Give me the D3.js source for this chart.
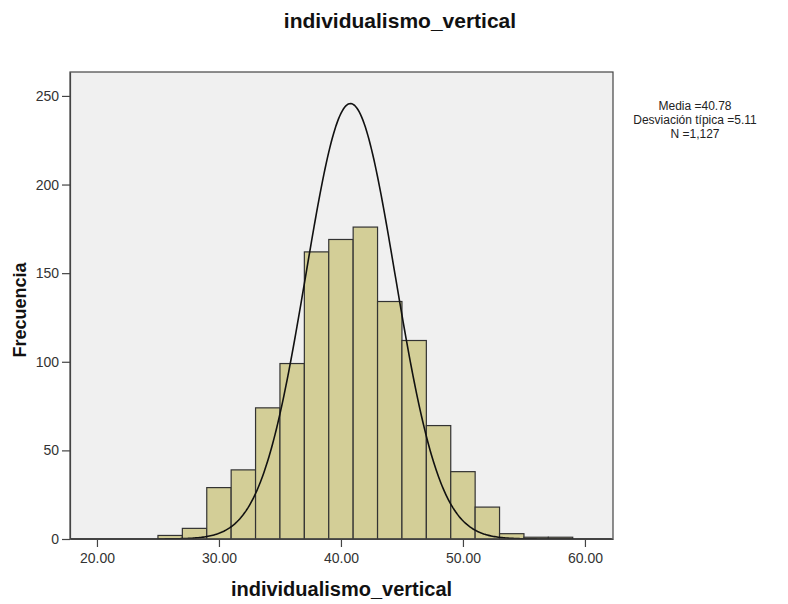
<!DOCTYPE html>
<html>
<head>
<meta charset="utf-8">
<script src="https://cdn.jsdelivr.net/npm/d3@7/dist/d3.min.js"></script>
<style>
  body { margin: 0; background: #fff; }
  svg text { font-family: "Liberation Sans", Arial, sans-serif; }
</style>
</head>
<body>
<svg id="chart" width="788" height="604"></svg>
<script>
// Histogram bins (lower edge, width 2) and frequencies
var binStarts = [25, 27, 29, 31, 33, 35, 37, 39, 41, 43, 45, 47, 49, 51, 53, 55, 57];
var counts = [2, 6, 29, 39, 74, 99, 162, 169, 176, 134, 112, 64, 38, 18, 3, 1, 1];
var binWidth = 2;

var xTicks = [20, 30, 40, 50, 60];
var yTicks = [0, 50, 100, 150, 200, 250];

// Stats shown in the legend
var statMean = 40.78;
var statSd = 5.11;
var statN = 1127;
// Normal curve as drawn on the chart
var curveSd = 3.66;

var legendLines = ["Media =40.78", "Desviación típica =5.11", "N =1,127"];

var svg = d3.select("#chart");

var plot = { left: 70, top: 72, right: 613, bottom: 539 };

var x = d3.scaleLinear().domain([17.79, 62.3]).range([plot.left, plot.right]);
var y = d3.scaleLinear().domain([0, 263.5]).range([plot.bottom, plot.top]);

// Plot background
svg.append("rect")
    .attr("x", plot.left)
    .attr("y", plot.top)
    .attr("width", plot.right - plot.left)
    .attr("height", plot.bottom - plot.top)
    .attr("fill", "#f0f0f0");

svg.append("clipPath").attr("id", "clip")
    .append("rect")
    .attr("x", plot.left)
    .attr("y", plot.top)
    .attr("width", plot.right - plot.left)
    .attr("height", plot.bottom - plot.top);

// Bars
svg.append("g")
    .selectAll("rect")
    .data(binStarts)
    .enter()
    .append("rect")
    .attr("x", d => x(d))
    .attr("y", (d, i) => y(counts[i]))
    .attr("width", d => x(d + binWidth) - x(d))
    .attr("height", (d, i) => y(0) - y(counts[i]))
    .attr("fill", "#d3ce97")
    .attr("stroke", "#333")
    .attr("stroke-width", 1.2);

// Normal curve
var pts = d3.range(17.8, 62.3, 0.1).map(function (v) {
    var z = (v - statMean) / curveSd;
    return [v, statN * binWidth * Math.exp(-0.5 * z * z) / (curveSd * Math.sqrt(2 * Math.PI))];
});

svg.append("path")
    .datum(pts)
    .attr("clip-path", "url(#clip)")
    .attr("fill", "none")
    .attr("stroke", "#111")
    .attr("stroke-width", 1.6)
    .attr("d", d3.line().x(d => x(d[0])).y(d => y(d[1])));

// Frame
svg.append("rect")
    .attr("x", plot.left)
    .attr("y", plot.top)
    .attr("width", plot.right - plot.left)
    .attr("height", plot.bottom - plot.top)
    .attr("fill", "none")
    .attr("stroke", "#444")
    .attr("stroke-width", 1.2);

// Axes
var xAxis = svg.append("g")
    .attr("transform", "translate(0," + plot.bottom + ")")
    .call(d3.axisBottom(x).tickValues(xTicks).tickFormat(d3.format(".2f")).tickSize(8).tickSizeOuter(0));

var yAxis = svg.append("g")
    .attr("transform", "translate(" + plot.left + ",0)")
    .call(d3.axisLeft(y).tickValues(yTicks).tickSize(8).tickSizeOuter(0));

[xAxis, yAxis].forEach(function (g) {
    g.select(".domain").attr("stroke", "#444").attr("stroke-width", 1.2);
    g.selectAll(".tick line").attr("stroke", "#444").attr("stroke-width", 1.2);
    g.selectAll(".tick text")
        .attr("fill", "#333")
        .style("font-size", "14px")
        .style("font-family", "\"Liberation Sans\", Arial, sans-serif");
});
xAxis.selectAll(".tick text").attr("dy", "0.93em");
yAxis.selectAll(".tick text").attr("x", -11);

// Title
svg.append("text")
    .attr("x", 400)
    .attr("y", 28)
    .attr("text-anchor", "middle")
    .style("font-size", "21px")
    .style("font-weight", "bold")
    .attr("fill", "#111")
    .text("individualismo_vertical");

// Axis titles
svg.append("text")
    .attr("x", (plot.left + plot.right) / 2)
    .attr("y", 596)
    .attr("text-anchor", "middle")
    .style("font-size", "20px")
    .style("font-weight", "bold")
    .attr("fill", "#111")
    .text("individualismo_vertical");

svg.append("text")
    .attr("transform", "translate(26,310) rotate(-90)")
    .attr("text-anchor", "middle")
    .style("font-size", "18px")
    .style("font-weight", "bold")
    .attr("fill", "#111")
    .text("Frecuencia");

// Legend
svg.append("g")
    .selectAll("text")
    .data(legendLines)
    .enter()
    .append("text")
    .attr("x", 695)
    .attr("y", (d, i) => 110 + i * 14)
    .attr("text-anchor", "middle")
    .style("font-size", "12px")
    .attr("fill", "#222")
    .text(d => d);
</script>
</body>
</html>
